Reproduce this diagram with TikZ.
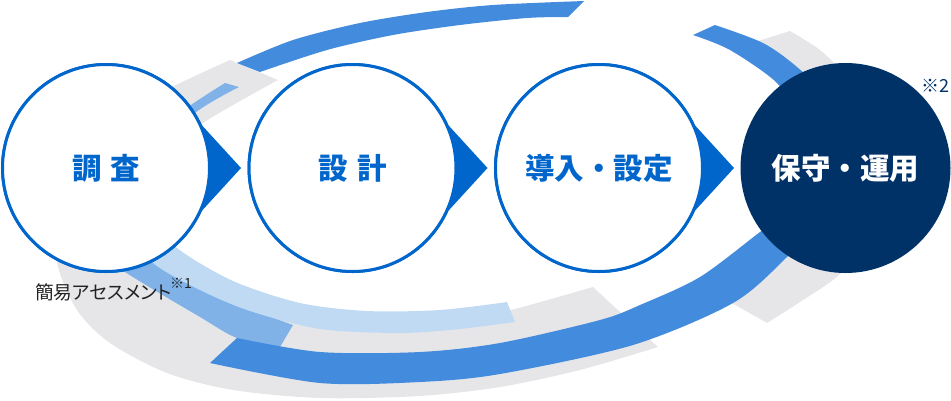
\documentclass[tikz,border=0pt]{standalone}
\usepackage{fontspec}
\newfontfamily\jpfont{Noto Sans CJK JP}
\newfontfamily\jpfontp[RawFeature=+palt]{Noto Sans CJK JP}
\usetikzlibrary{positioning}
\definecolor{stepblue}{RGB}{0,102,204}
\definecolor{navyblue}{RGB}{0,50,104}
\definecolor{bandblue}{RGB}{66,139,221}
\definecolor{bandmid}{RGB}{128,178,232}
\definecolor{bandlight}{RGB}{192,218,244}
\definecolor{bandgray}{RGB}{230,230,233}
\definecolor{notegray}{RGB}{34,34,34}
\tikzset{
  stepcircle/.style={circle, draw=stepblue, line width=3pt, fill=white, minimum size=207pt,
    inner sep=0pt, text=stepblue, font=\jpfont\bfseries\fontsize{29.5}{30}\selectfont},
  lastcircle/.style={circle, fill=navyblue, minimum size=210pt, inner sep=0pt,
    text=white, font=\jpfont\bfseries\fontsize{29.5}{30}\selectfont},
  steparrow/.style={fill=stepblue},
  notetext/.style={inner sep=0pt, text=notegray, font=\jpfontp\fontsize{18.7}{19}\selectfont},
  marktext/.style={inner sep=0pt, font=\jpfont\fontsize{#1}{#1}\selectfont},
}
\begin{document}
\begin{tikzpicture}[x=1pt, y=-1pt]
        \useasboundingbox (0,0) rectangle (951,400);
        % gray bands
        \fill [bandgray] plot [smooth] coordinates {(230,60) (170,88) (120,118) (82,165) (62,215) (57,262) (77,310) (110,343) (167,373) (233,390) (320,398) (420,396) (500,387) (580,370) (658,347)}
            -- plot [smooth] coordinates {(593,287) (515,309) (480,316) (400,320) (300,315) (200,280) (145,225) (160,160) (203,123) (278,80)} -- cycle;
        \fill [bandgray] plot [smooth] coordinates {(758,41) (790,31)}
            -- plot [smooth] coordinates {(790,31) (820,50) (845,75) (880,120) (890,170) (875,230) (840,274) (800,302) (767,323)}
            -- plot [smooth] coordinates {(723,298) (760,275) (800,230) (820,160) (815,100) (785,62) (758,41)} -- cycle;
        % light bands
        \fill [bandmid] plot [smooth] coordinates {(225,83) (188,107) (130,150) (95,205) (100,250) (125,272) (200,317) (237,338) (280,347)}
            -- plot [smooth] coordinates {(293,325) (250,309) (200,288) (153,262) (135,220) (150,160) (195,113) (239,87)} -- cycle;
        \fill [bandlight] plot [smooth] coordinates {(150,215) (177,248) (233,281) (300,303) (367,311) (440,310) (507,302)}
            -- plot [smooth] coordinates {(515,322) (460,329) (400,333) (320,329) (250,311) (200,290) (153,263) (130,230)} -- cycle;
        % blue bands
        \fill [bandblue] plot [smooth] coordinates {(715,25) (763,43) (797,67) (830,100) (850,150) (840,200) (787,257) (733,303) (633,345) (500,374) (420,382) (320,383) (210,363)}
            -- plot [smooth] coordinates {(237,338) (320,352) (420,352) (500,343) (600,320) (640,305) (700,277) (760,232) (790,210) (810,170) (800,120) (777,83) (730,50) (693,35)} -- cycle;
        \fill [bandblue] plot [smooth] coordinates {(237,63) (293,40) (360,23) (427,12) (493,5) (584,1)}
            -- plot [smooth] coordinates {(568,17) (527,18) (460,25) (393,35) (327,50) (260,72)} -- cycle;
        % steps
        \node [stepcircle] (chosa) at (106,168) {調\hspace{9pt}査};
        \node [stepcircle] (sekkei) at (352.5,168) {設\hspace{9pt}計};
        \node [stepcircle] (donyu) at (599,168) {導入・設定};
        \coordinate [right=135pt of chosa.center] (tipa);
        \coordinate [right=135pt of sekkei.center] (tipb);
        \coordinate [right=135pt of donyu.center] (tipc);
        \fill [steparrow] (chosa.24) -- (tipa) -- (chosa.-24) -- cycle;
        \fill [steparrow] (sekkei.24) -- (tipb) -- (sekkei.-24) -- cycle;
        \fill [steparrow] (donyu.24) -- (tipc) -- (donyu.-24) -- cycle;
        \node [stepcircle] at (chosa) {調\hspace{9pt}査};
        \node [stepcircle] at (sekkei) {設\hspace{9pt}計};
        \node [stepcircle] at (donyu) {導入・設定};
        \node [lastcircle] (unyo) at (845.5,168) {保守・運用};
        % notes
        \node [notetext, anchor=base west] (assess) at (35,299) {簡易アセスメント};
        \node [marktext=14, text=notegray, anchor=base west] (noteone) at (170,288.5) {※1};
        \node [marktext=18, text=navyblue, anchor=base west] (notetwo) at (921,92.5) {※2};
\end{tikzpicture}
\end{document}
